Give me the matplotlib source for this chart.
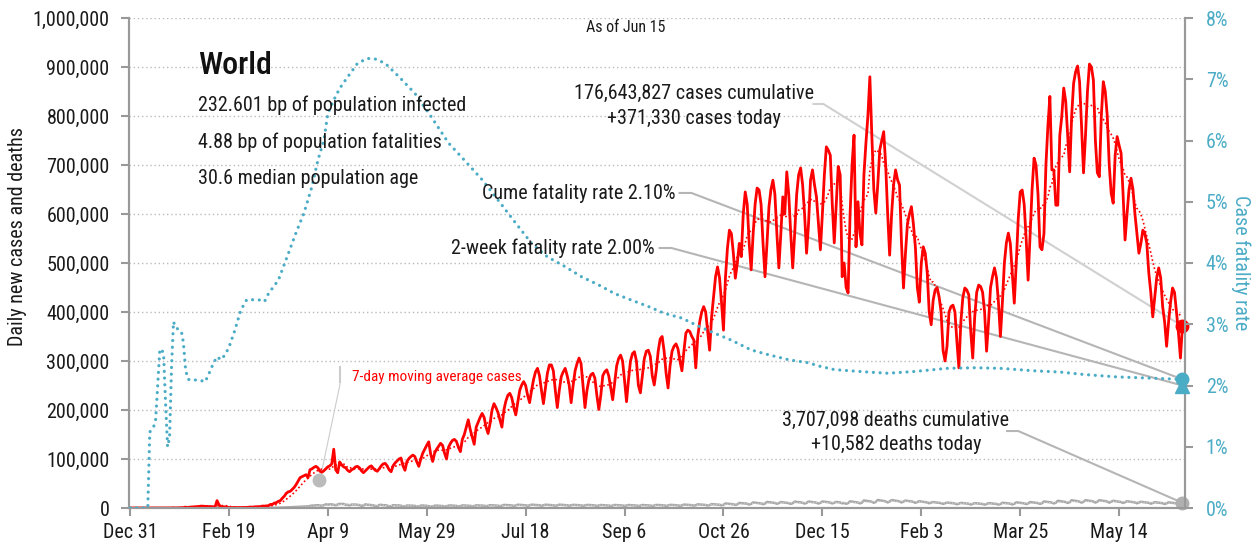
import numpy as np
import pandas as pd
import matplotlib
matplotlib.use('Agg')
import matplotlib.pyplot as plt

plt.rcParams['font.family'] = ['Roboto Condensed', 'Archivo Narrow',
                               'Barlow Semi Condensed', 'DejaVu Sans']

# daily new cases (thousands), one row per week, first day Tue Dec 31 2019
cases_k = [
    [0, 0, 0, 0, 0, 0, 0],
    [0, 0, 0, 0, 0, 0, 0],
    [0, 0, 0, 0, 0, 0, 0],
    [0.1, 0.5, 0.1, 0.3, 0.7, 0.7, 0.8],
    [1.8, 0.8, 1.7, 2.0, 2.1, 2.6, 2.8],
    [3.2, 3.9, 3.7, 3.2, 3.4, 2.7, 3.0],
    [2.5, 2.0, 15.1, 6.5, 2.1, 2.6, 2.1],
    [1.9, 0.6, 0.6, 1.0, 0.9, 0.6, 0.8],
    [0.9, 0.9, 1.2, 1.2, 1.6, 2.0, 1.7],
    [2.4, 2.6, 2.6, 2.9, 4.0, 3.9, 4.3],
    [4.7, 7.3, 7.5, 10.0, 11.0, 13.6, 15.0],
    [20, 24, 30, 33, 34, 38, 42],
    [48, 55, 62, 64, 66, 68, 62],
    [78, 80, 83, 85, 82, 75, 73],
    [76, 80, 84, 86, 90, 120, 78],
    [72, 94, 88, 84, 82, 77, 74],
    [78, 80, 84, 85, 82, 76, 72],
    [76, 80, 84, 86, 81, 77, 75],
    [80, 86, 90, 91, 86, 78, 74],
    [86, 92, 96, 100, 102, 86, 77],
    [95, 101, 105, 108, 105, 94, 85],
    [100, 112, 120, 128, 135, 110, 95],
    [112, 120, 126, 132, 128, 112, 100],
    [124, 132, 138, 140, 136, 124, 115],
    [140, 150, 165, 180, 160, 145, 130],
    [165, 175, 185, 193, 185, 165, 152],
    [172, 200, 213, 205, 195, 180, 165],
    [200, 218, 230, 234, 225, 205, 190],
    [215, 240, 251, 258, 250, 230, 215],
    [240, 262, 278, 285, 270, 240, 213],
    [245, 275, 292, 292, 280, 240, 205],
    [240, 268, 278, 285, 270, 251, 215],
    [250, 280, 295, 306, 295, 250, 205],
    [240, 262, 272, 275, 265, 230, 201],
    [230, 270, 278, 282, 270, 245, 221],
    [255, 290, 305, 312, 300, 260, 217],
    [262, 300, 315, 319, 300, 250, 235],
    [270, 305, 320, 322, 310, 270, 251],
    [280, 320, 345, 350, 320, 275, 245],
    [290, 320, 330, 335, 325, 300, 280],
    [320, 357, 363, 360, 350, 343, 286],
    [350, 380, 400, 411, 400, 360, 322],
    [390, 430, 472, 492, 470, 420, 363],
    [470, 530, 567, 560, 520, 469, 500],
    [540, 513, 600, 645, 620, 540, 486],
    [560, 620, 653, 649, 620, 540, 472],
    [540, 615, 650, 669, 640, 560, 490],
    [560, 635, 600, 686, 640, 560, 490],
    [560, 640, 680, 694, 660, 600, 520],
    [580, 669, 690, 660, 635, 580, 527],
    [600, 680, 737, 730, 720, 620, 541],
    [620, 697, 680, 472, 500, 450, 439],
    [600, 700, 761, 533, 625, 560, 537],
    [680, 744, 800, 880, 760, 650, 602],
    [660, 731, 750, 768, 700, 600, 516],
    [600, 660, 690, 670, 659, 540, 449],
    [520, 580, 600, 615, 580, 533, 450],
    [420, 500, 533, 520, 480, 400, 374],
    [424, 445, 450, 431, 400, 322, 300],
    [330, 400, 411, 414, 400, 340, 286],
    [380, 430, 449, 445, 435, 360, 306],
    [390, 440, 455, 452, 440, 400, 320],
    [380, 450, 472, 490, 470, 420, 350],
    [420, 500, 541, 561, 540, 480, 418],
    [500, 590, 645, 649, 620, 550, 465],
    [560, 650, 714, 700, 640, 533, 527],
    [560, 700, 780, 840, 690, 690, 618],
    [618, 760, 799, 857, 830, 760, 686],
    [800, 867, 890, 902, 870, 780, 684],
    [760, 850, 906, 900, 873, 750, 684],
    [676, 800, 870, 850, 800, 700, 642],
    [622, 720, 758, 740, 724, 640, 547],
    [600, 650, 673, 650, 600, 560, 520],
    [540, 567, 560, 540, 480, 440, 390],
    [430, 470, 490, 470, 411, 380, 330],
    [380, 420, 449, 440, 400, 357, 306],
    [371.33],
]

# daily new deaths (thousands), same layout
deaths_k = [
    [0, 0, 0, 0, 0, 0, 0],
    [0, 0, 0, 0, 0, 0, 0],
    [0, 0, 0, 0, 0, 0, 0],
    [0, 0.02, 0.01, 0.01, 0.02, 0.02, 0.03],
    [0.03, 0.03, 0.04, 0.04, 0.05, 0.06, 0.06],
    [0.07, 0.07, 0.07, 0.09, 0.09, 0.1, 0.1],
    [0.1, 0.1, 0.25, 0.14, 0.14, 0.14, 0.1],
    [0.1, 0.14, 0.12, 0.1, 0.1, 0.15, 0.1],
    [0.07, 0.06, 0.05, 0.05, 0.06, 0.06, 0.06],
    [0.07, 0.07, 0.07, 0.08, 0.1, 0.1, 0.2],
    [0.2, 0.3, 0.3, 0.35, 0.4, 0.5, 0.7],
    [0.8, 1.0, 1.1, 1.3, 1.5, 1.6, 1.7],
    [2.0, 2.4, 2.6, 2.8, 3.1, 3.3, 3.4],
    [4.1, 4.9, 5.0, 5.5, 5.8, 5.0, 4.8],
    [5.6, 7.5, 6.8, 7.4, 7.3, 6.5, 5.7],
    [7.2, 8.5, 8.0, 8.4, 6.5, 6.5, 5.5],
    [6.9, 7.1, 7.0, 6.5, 6.0, 4.5, 5.0],
    [7.5, 6.5, 6.5, 5.8, 5.5, 4.0, 3.6],
    [6.2, 6.4, 5.6, 5.8, 4.9, 3.5, 3.6],
    [5.8, 5.4, 5.1, 5.3, 4.6, 3.5, 3.6],
    [5.0, 5.0, 4.8, 4.7, 4.3, 3.3, 3.2],
    [4.9, 5.2, 4.6, 4.4, 3.8, 3.0, 3.2],
    [4.8, 4.9, 4.7, 4.3, 4.0, 3.2, 3.5],
    [5.0, 5.2, 4.8, 4.6, 4.3, 3.4, 3.8],
    [5.3, 5.1, 4.9, 4.7, 4.4, 3.6, 4.0],
    [5.4, 5.3, 5.0, 4.9, 4.6, 3.8, 4.4],
    [5.7, 5.5, 5.3, 5.1, 4.7, 4.0, 4.6],
    [6.3, 6.1, 5.8, 5.6, 5.2, 4.4, 5.1],
    [6.7, 6.4, 6.1, 5.9, 5.5, 4.6, 5.4],
    [6.8, 6.5, 6.2, 6.0, 5.6, 4.7, 5.5],
    [6.7, 6.4, 6.1, 5.9, 5.5, 4.6, 5.4],
    [6.8, 6.5, 6.2, 6.0, 5.6, 4.7, 5.5],
    [6.4, 6.2, 5.9, 5.7, 5.3, 4.5, 5.2],
    [6.3, 6.1, 5.8, 5.6, 5.2, 4.4, 5.1],
    [6.1, 5.8, 5.6, 5.4, 5.0, 4.2, 4.9],
    [6.2, 5.9, 5.7, 5.5, 5.1, 4.3, 5.0],
    [6.1, 5.8, 5.6, 5.4, 5.0, 4.2, 4.9],
    [6.1, 5.8, 5.6, 5.4, 5.0, 4.2, 4.9],
    [6.3, 6.1, 5.8, 5.6, 5.2, 4.4, 5.1],
    [6.4, 6.2, 5.9, 5.7, 5.3, 4.5, 5.2],
    [7.0, 6.7, 6.4, 6.2, 5.8, 4.9, 5.7],
    [7.5, 7.2, 6.8, 6.6, 6.2, 5.2, 6.0],
    [7.9, 7.6, 7.2, 7.0, 6.6, 5.5, 6.4],
    [9.2, 8.8, 8.4, 8.2, 7.6, 6.4, 7.4],
    [10.4, 9.9, 9.5, 9.2, 8.6, 7.2, 8.4],
    [11.3, 10.8, 10.3, 10.0, 9.3, 7.8, 9.1],
    [12.4, 11.9, 11.3, 11.0, 10.3, 8.6, 10.0],
    [12.1, 11.6, 11.0, 10.7, 10.0, 8.4, 9.8],
    [13.0, 12.4, 11.9, 11.5, 10.7, 9.0, 10.5],
    [13.1, 12.5, 12.0, 11.6, 10.8, 9.1, 10.6],
    [13.3, 12.8, 12.2, 11.8, 11.0, 9.3, 10.8],
    [12.4, 11.9, 11.3, 9.5, 10.3, 8.6, 10.0],
    [13.6, 13.0, 12.4, 12.0, 11.2, 9.4, 11.0],
    [15.4, 14.7, 14.1, 13.7, 12.7, 10.7, 12.5],
    [16.3, 15.6, 14.9, 14.5, 13.5, 11.4, 13.2],
    [16.2, 15.5, 14.8, 14.4, 13.4, 11.3, 13.1],
    [15.2, 14.5, 13.9, 13.5, 12.5, 10.6, 12.3],
    [13.8, 13.2, 12.6, 12.2, 11.4, 9.6, 11.2],
    [12.1, 11.6, 11.0, 10.7, 10.0, 8.4, 9.8],
    [11.0, 10.6, 10.1, 9.8, 9.1, 7.7, 8.9],
    [10.4, 9.9, 9.5, 9.2, 8.6, 7.2, 8.4],
    [9.9, 9.5, 9.0, 8.8, 8.2, 6.9, 8.0],
    [10.0, 9.6, 9.1, 8.9, 8.3, 7.0, 8.1],
    [10.7, 10.2, 9.8, 9.5, 8.8, 7.4, 8.6],
    [11.5, 11.0, 10.5, 10.2, 9.5, 8.0, 9.3],
    [12.1, 11.6, 11.0, 10.7, 10.0, 8.4, 9.8],
    [13.3, 12.8, 12.2, 11.8, 11.0, 9.3, 10.8],
    [14.7, 14.1, 13.4, 13.1, 12.2, 10.2, 11.9],
    [15.8, 15.1, 14.4, 14.0, 13.0, 11.0, 12.7],
    [16.0, 15.3, 14.6, 14.2, 13.2, 11.1, 12.9],
    [15.9, 15.2, 14.5, 14.1, 13.1, 11.0, 12.8],
    [14.7, 14.1, 13.4, 13.1, 12.2, 10.2, 11.9],
    [13.8, 13.2, 12.6, 12.2, 11.4, 9.6, 11.2],
    [12.7, 12.1, 11.6, 11.2, 10.5, 8.8, 10.2],
    [11.8, 11.3, 10.8, 10.5, 9.8, 8.2, 9.6],
    [11.5, 11.0, 10.5, 10.2, 9.5, 8.0, 9.3],
    [10.582],
]

# case fatality rate (%), read at these day offsets
cfr_day = [0, 9, 10, 12, 13, 14, 15, 16, 17, 18, 19, 20, 21, 22, 23, 26, 27,
           28, 29, 30, 35, 38, 40, 42, 44, 46, 48, 50, 53, 56, 59, 65, 68, 70,
           75, 80, 84, 88, 92, 95, 98, 100, 103, 106, 109, 115, 120, 124, 129,
           136, 144, 152, 161, 169, 178, 186, 195, 203, 211, 220, 228, 237,
           245, 253, 262, 270, 279, 286, 295, 304, 314, 323, 333, 343, 348,
           356, 364, 373, 383, 397, 413, 427, 440, 457, 470, 482, 499, 516,
           532]
cfr_pct = [0, 0, 1.24, 1.33, 1.45, 2.0, 2.55, 2.6, 2.5, 1.7, 1.0, 1.15, 2.3,
           3.04, 2.95, 2.88, 2.7, 2.3, 2.12, 2.09, 2.09, 2.06, 2.2, 2.35, 2.47,
           2.42, 2.5, 2.62, 2.9, 3.23, 3.4, 3.4, 3.37, 3.5, 3.72, 4.15, 4.5,
           4.82, 5.25, 5.68, 6.0, 6.44, 6.66, 6.85, 6.99, 7.26, 7.34, 7.33,
           7.26, 7.04, 6.77, 6.4, 5.96, 5.68, 5.36, 5.03, 4.65, 4.32, 4.1,
           3.94, 3.78, 3.64, 3.5, 3.4, 3.29, 3.18, 3.1, 2.99, 2.86, 2.74, 2.58,
           2.5, 2.42, 2.37, 2.32, 2.26, 2.24, 2.22, 2.2, 2.23, 2.28, 2.29,
           2.28, 2.24, 2.22, 2.18, 2.14, 2.12, 2.10]

cum_cfr = 2.10
week2_cfr = 2.00
ma_note_day, ma_note_val = 95.5, 57000

tick_days = [0, 50, 100, 150, 200, 250, 300, 350, 400, 450, 500]
tick_labels = ['Dec 31', 'Feb 19', 'Apr 9', 'May 29', 'Jul 18', 'Sep 6',
               'Oct 26', 'Dec 15', 'Feb 3', 'Mar 25', 'May 14']

RED = '#ff0000'
TEAL = '#4bacc6'
GRAY = '#a8a8a8'
AXC = '#999999'
INK = '#1a1a1a'
FS = 14.5
W, H = 1253, 545


def px(x, y):
    return x / W, 1 - y / H


def main():
    cases = np.array([v for row in cases_k for v in row]) * 1000
    deaths = np.array([v for row in deaths_k for v in row]) * 1000
    days = np.arange(len(cases))
    cases_ma = pd.Series(cases).rolling(7, min_periods=1).mean()
    deaths_ma = pd.Series(deaths).rolling(7, min_periods=1).mean()
    last = days[-1]

    fig = plt.figure(figsize=(W / 100, H / 100), dpi=100)
    ax = fig.add_axes([129 / W, 1 - 508 / H, (1185 - 129) / W, 490 / H])
    ax2 = ax.twinx()

    ax.set_xlim(-0.5, 533.3)
    ax.set_ylim(0, 1000000)
    ax2.set_ylim(0, 8)

    for v in range(100000, 1000001, 100000):
        ax.axhline(v, color='#bbbbbb', lw=1, ls=(0, (1, 2)), zorder=0)

    ax.plot(days, deaths, color=GRAY, lw=1.8, zorder=2)
    ax.plot(days, deaths_ma, color='#d4d4d4', lw=0.8, ls=(0, (1, 1.5)),
            zorder=2)
    ax.plot(days, cases, color=RED, lw=2, zorder=3)
    ax.plot(days, cases_ma, color=RED, lw=1.2, ls=(0, (1, 1.5)), zorder=3)
    ax2.plot(cfr_day, cfr_pct, color=TEAL, lw=2.3, ls=(0, (0.01, 2.1)),
             dash_capstyle='round', zorder=3)

    # end markers
    ax.plot([last], [cases[-1]], 'o', color=RED, ms=9, clip_on=False, zorder=5)
    ax.plot([last], [deaths[-1]], 'o', color='#b0b0b0', ms=9, clip_on=False,
            zorder=5)
    ax2.plot([last], [week2_cfr], '^', color=TEAL, ms=10, clip_on=False,
             zorder=5)
    ax2.plot([last], [cum_cfr], 'o', color=TEAL, ms=9, clip_on=False, zorder=5)
    ax.plot([ma_note_day], [ma_note_val], 'o', color='#bbbbbb', ms=9, zorder=4)

    # leader lines (left-axis data units)
    pscale = 1000000 / 8
    ax.plot([345.5, 350.5, last], [824500, 824500, cases[-1]],
            color='#d0d0d0', lw=1.5, clip_on=False, zorder=1)
    ax.plot([277.8, 283.8, last], [642900, 642900, cum_cfr * pscale],
            color='#b5b5b5', lw=1.5, clip_on=False, zorder=1)
    ax.plot([267.7, 273.7, last], [530600, 530600, week2_cfr * pscale],
            color='#b5b5b5', lw=1.5, clip_on=False, zorder=1)
    ax.plot([443.4, 449.0, last], [157100, 157100, deaths[-1]],
            color='#b5b5b5', lw=1.5, clip_on=False, zorder=1)
    ax.plot([106.4, 106.4], [288400, 257000], color='#cccccc', lw=1.5)
    ax.plot([106.4, 96.4], [257000, 65000], color='#cccccc', lw=0.8)

    # axes styling
    for a in (ax, ax2):
        a.spines['top'].set_visible(False)
        for s in ('left', 'right', 'bottom'):
            a.spines[s].set_color(AXC)
            a.spines[s].set_linewidth(1.5)
    ax.set_xticks(tick_days)
    ax.set_xticklabels(tick_labels)
    ax.set_yticks(range(0, 1000001, 100000))
    ax.set_yticklabels([f'{v:,}' for v in range(0, 1000001, 100000)])
    ax.tick_params(axis='both', colors=AXC, labelcolor=INK,
                   labelsize=FS, length=6, width=1.5)
    ax.tick_params(axis='y', pad=8)
    ax.tick_params(axis='x', pad=5)
    ax2.set_yticks(range(0, 9))
    ax2.set_yticklabels([f'{v}%' for v in range(0, 9)])
    ax2.tick_params(axis='y', colors=AXC, labelcolor=TEAL, labelsize=FS,
                    length=6, width=1.5, pad=9)

    # texts
    fig.text(*px(18, 237), 'Daily new cases and deaths', rotation=90,
             ha='center', va='center', fontsize=FS, color=INK)
    fig.text(*px(1241, 263), 'Case fatality rate', rotation=270,
             ha='center', va='center', fontsize=FS, color=TEAL)
    fig.text(*px(198, 65), 'World', ha='left', va='center', fontsize=23,
             color='#111111', fontweight='medium')
    fig.text(*px(198, 105), '232.601 bp of population infected', ha='left',
             va='center', fontsize=FS, color=INK)
    fig.text(*px(198, 142), '4.88 bp of population fatalities', ha='left',
             va='center', fontsize=FS, color=INK)
    fig.text(*px(198, 178), '30.6 median population age', ha='left',
             va='center', fontsize=FS, color=INK)
    fig.text(*px(626, 28), 'As of Jun 15', ha='center', va='center',
             fontsize=11.5, color=INK)
    fig.text(*px(694, 93), '176,643,827 cases cumulative', ha='center',
             va='center', fontsize=FS, color=INK)
    fig.text(*px(694, 118), '+371,330 cases today', ha='center',
             va='center', fontsize=FS, color=INK)
    fig.text(*px(675, 193), 'Cume fatality rate 2.10%', ha='right',
             va='center', fontsize=FS, color=INK)
    fig.text(*px(655, 248), '2-week fatality rate 2.00%', ha='right',
             va='center', fontsize=FS, color=INK)
    fig.text(*px(896, 420), '3,707,098 deaths cumulative', ha='center',
             va='center', fontsize=FS, color=INK)
    fig.text(*px(896, 444), '+10,582 deaths today', ha='center',
             va='center', fontsize=FS, color=INK)
    fig.text(*px(352, 377), '7-day moving average cases', ha='left',
             va='center', fontsize=11, color=RED)

    fig.savefig('out.png', dpi=100)


if __name__ == "__main__":
    main()
